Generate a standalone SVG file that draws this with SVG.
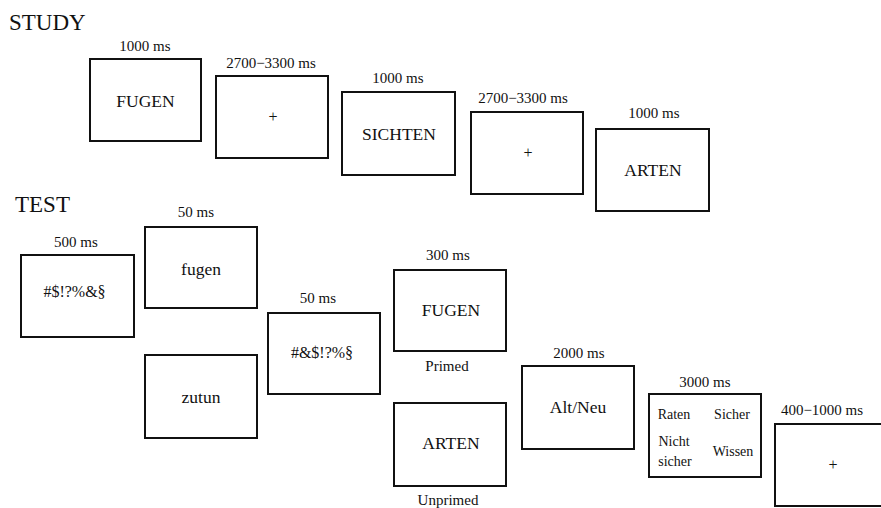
<svg xmlns="http://www.w3.org/2000/svg" width="881" height="508" viewBox="0 0 881 508">
<style>
text{font-family:"Liberation Serif","Times New Roman",serif;fill:#111;text-anchor:middle}
.box{fill:#fff;stroke:#111;stroke-width:2}
.lbl{font-size:15px}
.big{font-size:17.5px}
.hd{font-size:23px;text-anchor:start}
.sm{font-size:14px}
.pl{font-size:16px}
</style>
<rect width="881" height="508" fill="#fff"/>
<text class="hd" x="9" y="30">STUDY</text>
<text class="hd" x="15" y="212">TEST</text>
<g id="s1"><text class="lbl" x="145" y="51">1000 ms</text><rect class="box" x="90" y="59" width="111" height="82"/><text class="big" x="145.5" y="106.5">FUGEN</text></g>
<g id="s2"><text class="lbl" x="271" y="68">2700−3300 ms</text><rect class="box" x="216" y="76" width="112" height="82"/><text class="pl" x="273" y="122">+</text></g>
<g id="s3"><text class="lbl" x="398" y="83">1000 ms</text><rect class="box" x="342" y="92" width="113" height="83"/><text class="big" x="399" y="140">SICHTEN</text></g>
<g id="s4"><text class="lbl" x="523" y="103">2700−3300 ms</text><rect class="box" x="471" y="112" width="112" height="82"/><text class="pl" x="528" y="158">+</text></g>
<g id="s5"><text class="lbl" x="654" y="118">1000 ms</text><rect class="box" x="596" y="129" width="113" height="82"/><text class="big" x="653" y="176">ARTEN</text></g>
<g id="t1"><text class="lbl" x="76" y="247">500 ms</text><rect class="box" x="21" y="255" width="113" height="82"/><text class="pl" x="74.5" y="297">#$!?%&amp;§</text></g>
<g id="t2"><text class="lbl" x="196" y="217">50 ms</text><rect class="box" x="145" y="227" width="112" height="81"/><text class="big" x="201" y="275">fugen</text></g>
<g id="t3"><rect class="box" x="145" y="355" width="112" height="83"/><text class="big" x="201" y="403">zutun</text></g>
<g id="t4"><text class="lbl" x="318" y="303">50 ms</text><rect class="box" x="268" y="313" width="112" height="81"/><text class="pl" x="322" y="358">#&amp;$!?%§</text></g>
<g id="t5"><text class="lbl" x="448" y="260">300 ms</text><rect class="box" x="394" y="270" width="112" height="81"/><text class="big" x="451" y="316">FUGEN</text><text class="lbl" x="447" y="371">Primed</text></g>
<g id="t6"><rect class="box" x="394" y="403" width="112" height="83"/><text class="big" x="451" y="449">ARTEN</text><text class="lbl" x="448" y="505">Unprimed</text></g>
<g id="t7"><text class="lbl" x="579" y="358">2000 ms</text><rect class="box" x="522" y="366" width="112" height="83"/><text class="big" x="578" y="413">Alt/Neu</text></g>
<g id="t8"><text class="lbl" x="705" y="387">3000 ms</text><rect class="box" x="649" y="394" width="112" height="83"/>
<text class="sm" x="674" y="419">Raten</text><text class="sm" x="732" y="419">Sicher</text>
<text class="sm" x="674" y="446">Nicht</text><text class="sm" x="675" y="466">sicher</text><text class="sm" x="733" y="456">Wissen</text></g>
<g id="t9"><text class="lbl" x="822" y="415">400−1000 ms</text><rect class="box" x="775" y="424" width="112" height="82"/><text class="pl" x="833" y="470">+</text></g>
<g id="connectors"></g>
</svg>
